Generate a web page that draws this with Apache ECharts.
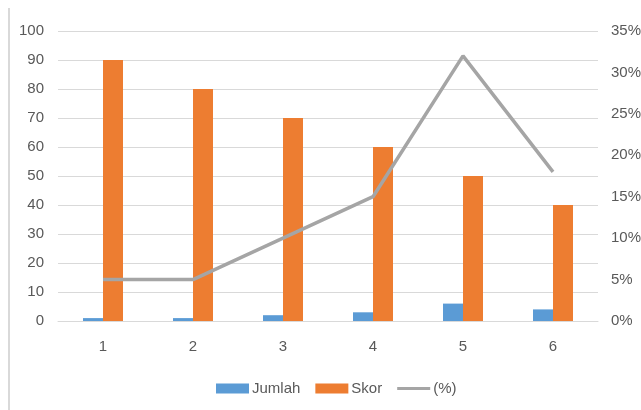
<!DOCTYPE html>
<html>
<head>
<meta charset="utf-8">
<script src="https://cdn.jsdelivr.net/npm/echarts@6/dist/echarts.min.js"></script>
<style>
  html, body { margin: 0; padding: 0; background: #fff; }
  #chart { width: 641px; height: 410px; }
</style>
</head>
<body>
<div id="chart"></div>
<script>
const categories = ['1', '2', '3', '4', '5', '6'];
const jumlah = [1, 1, 2, 3, 6, 4];
const skor = [90, 80, 70, 60, 50, 40];
const persen = [5, 5, 10, 15, 32, 18];

const labelColor = '#595959';
const font = 'Liberation Sans';

const chart = echarts.init(document.getElementById('chart'));
chart.setOption({
  animation: false,
  textStyle: { fontFamily: font },
  grid: { left: 58, right: 43, top: 31, bottom: 89, outerBoundsMode: 'none', containLabel: false },
  legend: {
    top: 376,
    left: 211,
    itemWidth: 33,
    itemHeight: 10,
    itemGap: 15,
    textStyle: { color: labelColor, fontSize: 15, fontFamily: font, padding: [0, 0, 0, -2] },
    data: [
      { name: 'Jumlah', icon: 'rect' },
      { name: 'Skor', icon: 'rect' },
      { name: '(%)', icon: 'path://M0,4 L33,4 L33,7 L0,7 Z' }
    ]
  },
  xAxis: {
    type: 'category',
    data: categories,
    axisLine: { lineStyle: { color: '#d9d9d9', width: 1 } },
    axisTick: { show: false },
    axisLabel: { color: labelColor, fontSize: 15, margin: 18 }
  },
  yAxis: [
    {
      type: 'value', min: 0, max: 100, interval: 10,
      axisLine: { show: false }, axisTick: { show: false },
      axisLabel: { color: labelColor, fontSize: 15, margin: 14 },
      splitLine: { lineStyle: { color: '#d9d9d9', width: 1 } }
    },
    {
      type: 'value', min: 0, max: 35, interval: 5,
      axisLine: { show: false }, axisTick: { show: false },
      axisLabel: { color: labelColor, fontSize: 15, margin: 13, formatter: '{value}%' },
      splitLine: { show: false }
    }
  ],
  series: [
    {
      name: 'Jumlah', type: 'bar', data: jumlah, barWidth: 20, barGap: '0%',
      itemStyle: { color: '#5B9BD5' }
    },
    {
      name: 'Skor', type: 'bar', data: skor, barWidth: 20,
      itemStyle: { color: '#ED7D31' }
    },
    {
      name: '(%)', type: 'line', yAxisIndex: 1, data: persen,
      symbol: 'none', lineStyle: { color: '#A5A5A5', width: 3.5 },
      itemStyle: { color: '#A5A5A5' }
    }
  ],
  graphic: [
    {
      type: 'line',
      shape: { x1: 9, y1: 8, x2: 9, y2: 410 },
      style: { stroke: '#d9d9d9', lineWidth: 2 }
    }
  ]
});
</script>
</body>
</html>
